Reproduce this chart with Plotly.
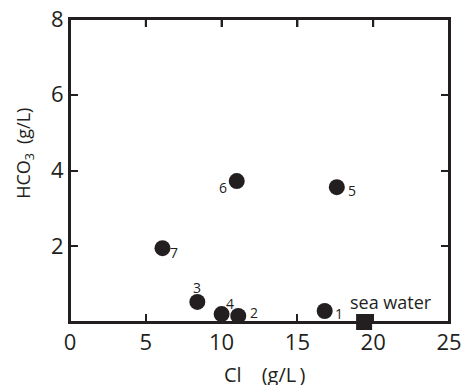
import plotly.graph_objects as go

# Sample data
sample_ids = ["1", "2", "3", "4", "5", "6", "7"]
cl_values = [16.8, 11.1, 8.4, 10.0, 17.6, 11.0, 6.1]
hco3_values = [0.29, 0.16, 0.53, 0.21, 3.56, 3.72, 1.95]

seawater_name = ["sea water"]
seawater_cl = [19.4]
seawater_hco3 = [0.0]

x_ticks = [0, 5, 10, 15, 20, 25]
y_ticks = [2, 4, 6, 8]

# label placement (pixel offsets from marker centre) - styling only
label_offsets = [(14, -2), (16, 3), (0, 14), (8, 11), (15, -3), (-14, -6), (12, -4)]

ink = "#231f20"
font_family = "Open Sans, Noto Sans, sans-serif"
W, H = 464, 385
M = dict(l=70, r=15, t=19, b=63)
plot_h = H - M["t"] - M["b"]
tick_len = 8

fig = go.Figure()
fig.add_trace(go.Scatter(
    x=cl_values, y=hco3_values, mode="markers",
    marker=dict(size=16, color=ink, symbol="circle"),
    cliponaxis=False, showlegend=False,
))
fig.add_trace(go.Scatter(
    x=seawater_cl, y=seawater_hco3, mode="markers",
    marker=dict(size=16, color=ink, symbol="square"),
    cliponaxis=False, showlegend=False,
))
for sid, xv, yv, (dx, dy) in zip(sample_ids, cl_values, hco3_values, label_offsets):
    fig.add_annotation(x=xv, y=yv, text=sid, showarrow=False,
                       xanchor="center", yanchor="middle", xshift=dx, yshift=dy,
                       font=dict(size=14, color=ink, family=font_family))
for name, xv, yv in zip(seawater_name, seawater_cl, seawater_hco3):
    fig.add_annotation(x=xv, y=yv, text=name, showarrow=False,
                       xanchor="left", yanchor="middle", xshift=-16, yshift=20,
                       font=dict(size=18, color=ink, family=font_family))

# axis titles
fig.add_annotation(xref="paper", yref="paper", x=0.512, y=0, yshift=-52,
                   text="Cl\u2002\u2002(g/L\u2009)", showarrow=False,
                   xanchor="center", yanchor="middle",
                   font=dict(size=20, color=ink, family=font_family))
fig.add_annotation(xref="paper", yref="paper", x=0, y=0.555, xshift=-45,
                   text="HCO<sub>3</sub>\u2002(g/L)", showarrow=False, textangle=-90,
                   xanchor="center", yanchor="middle",
                   font=dict(size=18, color=ink, family=font_family))

# frame around the plot area and the top ticks (mirrored x ticks)
fig.add_shape(type="rect", xref="paper", yref="paper", x0=0, x1=1, y0=0, y1=1,
              line=dict(color=ink, width=2), layer="above")
for tv in x_ticks[1:-1]:
    fig.add_shape(type="line", xref="x", yref="paper", x0=tv, x1=tv,
                  y0=1, y1=1 - tick_len / plot_h,
                  line=dict(color=ink, width=2), layer="above")

axis_common = dict(
    showline=True, linecolor=ink, linewidth=2, mirror="ticks",
    ticks="inside", ticklen=tick_len, tickwidth=2, tickcolor=ink,
    showgrid=False, zeroline=False, automargin=False,
    ticklabeloverflow="allow",
    tickfont=dict(size=22, color=ink, family=font_family),
)
fig.update_xaxes(range=[0, 25], tickvals=x_ticks, **axis_common)
fig.update_yaxes(range=[0, 8], tickvals=y_ticks, **axis_common)

fig.update_layout(
    width=W, height=H, margin=M,
    plot_bgcolor="white", paper_bgcolor="white",
)
# remove the default page margin so the figure fills the window exactly
fig.write_html("out.html", config={"displayModeBar": False},
               post_script="document.body.style.margin='0';")
